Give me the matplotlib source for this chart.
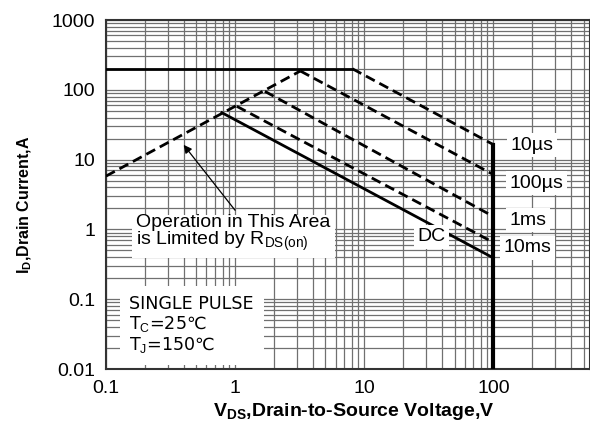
import matplotlib
matplotlib.use("Agg")
import matplotlib.pyplot as plt

# ---- data ----
limit_v = [0.1, 8.1]
limit_i = [200, 200]
rds_v = [0.1, 3.2]
rds_i = [5.8, 186]
us10_v = [8.1, 100]
us10_i = [200, 16.4]
us100_v = [3.2, 100]
us100_i = [186, 6.1]
ms1_v = [1.7, 100]
ms1_i = [95, 1.53]
ms10_v = [1.03, 100]
ms10_i = [58, 0.65]
dc_v = [0.79, 100]
dc_i = [47, 0.39]
vmax_v = [100, 100]
vmax_i = [16.4, 0.01]

curve_labels = ["10µs", "100µs", "1ms", "10ms"]
curve_label_v = [200, 215, 185, 185]
curve_label_i = [16.0, 4.6, 1.36, 0.55]

xticks = [0.1, 1, 10, 100]
xticklabels = ["0.1", "1", "10", "100"]
yticks = [0.01, 0.1, 1, 10, 100, 1000]
yticklabels = ["0.01", "0.1", "1", "10", "100", "1000"]

FONT = ["Liberation Sans", "DejaVu Sans"]
plt.rcParams["font.family"] = FONT
plt.rcParams["mathtext.fontset"] = "custom"
plt.rcParams["mathtext.rm"] = "Liberation Sans"
plt.rcParams["mathtext.bf"] = "Liberation Sans:bold"

fig = plt.figure(figsize=(5.9, 4.21), dpi=100)
ax = fig.add_axes([106/590, 1-369/421, 1-106/590, (369-20)/421])
ax.set_xscale("log")
ax.set_yscale("log")
ax.set_xlim(0.1, 560)
ax.set_ylim(0.01, 1000)

ax.grid(True, which="both", color="#707070", linewidth=0.9)
ax.set_axisbelow(True)

k = "black"
dash = (0, (3.6, 1.9))
ax.plot(limit_v, limit_i, color=k, lw=2, zorder=3)
ax.plot(rds_v, rds_i, color=k, lw=2, ls=dash, zorder=3)
ax.plot(us10_v, us10_i, color=k, lw=2, ls=dash, zorder=3)
ax.plot(us100_v, us100_i, color=k, lw=2, ls=dash, zorder=3)
ax.plot(ms1_v, ms1_i, color=k, lw=2, ls=dash, zorder=3)
ax.plot(ms10_v, ms10_i, color=k, lw=2, ls=dash, zorder=3)
ax.plot(dc_v, dc_i, color=k, lw=2, zorder=3)
ax.plot(vmax_v, vmax_i, color=k, lw=3, zorder=3)

bbox = dict(facecolor="white", edgecolor="none", pad=2.5)
for lab, v, i in zip(curve_labels, curve_label_v, curve_label_i):
    ax.text(v, i, lab, fontsize=14, ha="center", va="center", bbox=bbox, zorder=5)
ax.text(33.2, 0.79, "DC", fontsize=14, ha="center", va="center", bbox=bbox, zorder=5)

ax.text(0.172, 0.86, "Operation in This Area\nis Limited by R$_{\\mathrm{DS(on)}}$", fontsize=14,
        ha="left", va="center", linespacing=0.9,
        bbox=dict(facecolor="white", edgecolor="none", pad=3), zorder=5)
ax.annotate("", xy=(0.387, 17.5), xytext=(1.03, 1.75),
            arrowprops=dict(arrowstyle="-|>", color=k, lw=0.9, mutation_scale=12), zorder=6)

ax.text(0.152, 0.043, "SINGLE PULSE\nT$_\\mathrm{C}$=25℃\nT$_\\mathrm{J}$=150℃", fontsize=12.6,
        family="DejaVu Sans", ha="left", va="center", linespacing=1.08,
        bbox=dict(facecolor="white", edgecolor="none", pad=7), zorder=5)

ax.set_xticks(xticks)
ax.set_xticklabels(xticklabels)
ax.set_yticks(yticks)
ax.set_yticklabels(yticklabels)
ax.tick_params(which="both", length=0, labelsize=14, pad=8)
for s in ax.spines.values():
    s.set_linewidth(1.5)
    s.set_color("#333333")

ax.set_xlabel("V$_\\mathbf{DS}$,Drain-to-Source Voltage,V", fontsize=14, fontweight="bold")
ax.xaxis.set_label_coords((354-106)/484, -(401-369)/349)
ax.set_ylabel("I$_\\mathbf{D}$,Drain Current,A", fontsize=11.5, fontweight="bold")
ax.yaxis.set_label_coords((34-106)/484, 1-(205-20)/349)

fig.savefig("out.png", dpi=100)
